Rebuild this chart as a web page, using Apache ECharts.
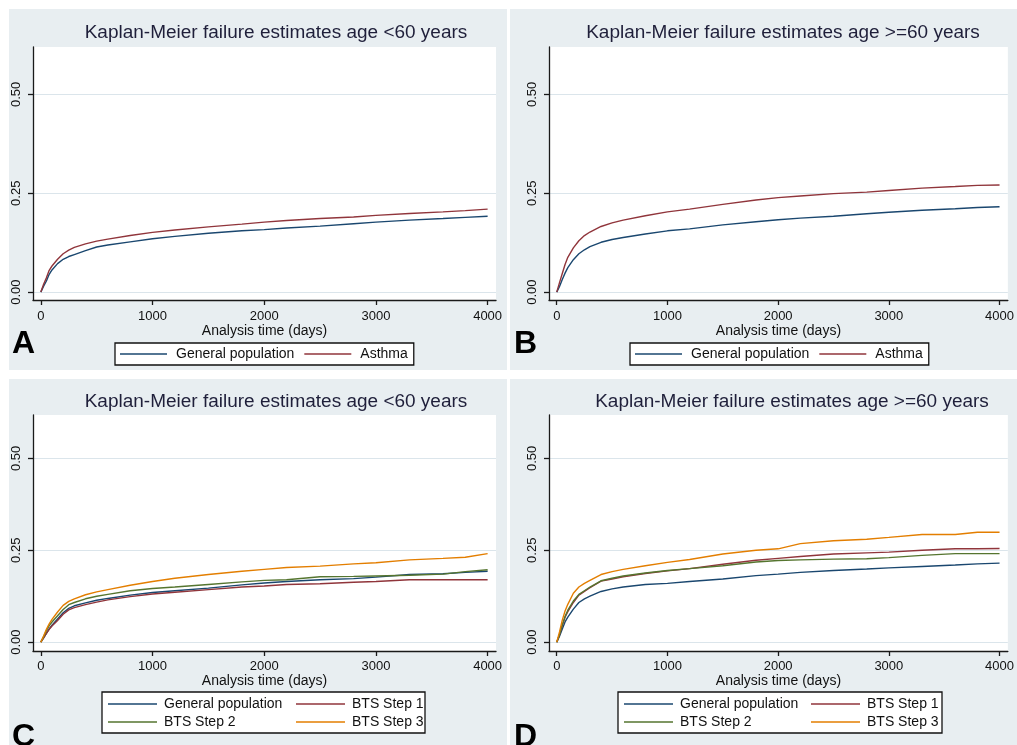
<!DOCTYPE html>
<html>
<head>
<meta charset="utf-8">
<title>Kaplan-Meier failure estimates</title>
<script src="https://cdn.jsdelivr.net/npm/echarts@6/dist/echarts.min.js"></script>
<style>
  html, body { margin: 0; padding: 0; background: #fff; }
  #chart { width: 1017px; height: 745px; }
</style>
</head>
<body>
<div id="chart"></div>
<script>
const days = [0, 25, 50, 75, 100, 150, 200, 250, 300, 400, 500, 600, 800, 1000,
    1200, 1500, 1800, 2000, 2200, 2500, 2800, 3000, 3300, 3600, 3800, 4000];

// A: age <60, general population vs asthma
const genPopA = [0, .015, .028, .045, .056, .072, .083, .090, .095, .105, .114, .119, .127, .135,
    .141, .149, .155, .158, .162, .167, .173, .177, .182, .186, .189, .192];
const asthmaA = [0, .020, .036, .055, .066, .083, .097, .106, .113, .122, .129, .134, .143, .151,
    .157, .165, .172, .177, .181, .186, .190, .194, .199, .203, .206, .210];

// B: age >=60, general population vs asthma
const genPopB = [0, .014, .032, .048, .062, .082, .097, .107, .115, .126, .133, .138, .147, .155,
    .160, .170, .178, .183, .187, .192, .198, .202, .207, .211, .214, .216];
const asthmaB = [0, .024, .047, .070, .088, .112, .130, .143, .152, .166, .175, .182, .193, .203,
    .210, .222, .233, .239, .243, .249, .253, .257, .263, .267, .270, .271];

// C: age <60, by BTS step
const genPopC = [0, .012, .024, .036, .046, .063, .080, .092, .099, .107, .114, .119, .128, .135,
    .140, .147, .156, .161, .165, .170, .173, .177, .184, .186, .190, .193];
const step1C = [0, .012, .024, .035, .044, .059, .076, .088, .094, .102, .109, .115, .124, .131,
    .136, .143, .150, .153, .157, .159, .163, .165, .170, .170, .170, .170];
const step2C = [0, .015, .031, .045, .055, .072, .089, .102, .108, .118, .125, .130, .140, .146,
    .150, .157, .164, .168, .170, .178, .179, .180, .182, .185, .192, .197];
const step3C = [0, .017, .035, .050, .062, .082, .100, .111, .118, .129, .137, .143, .155, .165,
    .174, .184, .193, .198, .203, .207, .213, .216, .224, .228, .231, .241];

// D: age >=60, by BTS step
const genPopD = [0, .016, .036, .055, .068, .090, .108, .118, .125, .138, .145, .150, .157, .160,
    .165, .172, .181, .185, .190, .195, .199, .202, .206, .210, .213, .215];
const step1D = [0, .020, .045, .068, .083, .108, .128, .138, .148, .166, .172, .178, .187, .194,
    .200, .212, .223, .228, .233, .240, .243, .245, .250, .254, .254, .255];
const step2D = [0, .021, .047, .070, .087, .112, .130, .140, .150, .167, .174, .180, .188, .195,
    .200, .208, .218, .222, .224, .226, .227, .230, .236, .241, .241, .241];
const step3D = [0, .028, .060, .085, .103, .133, .150, .160, .168, .184, .192, .198, .208, .217,
    .225, .240, .250, .254, .268, .276, .280, .285, .293, .293, .299, .299];

const xTicks = [0, 1000, 2000, 3000, 4000];
const yTicks = [0, 0.25, 0.5];

const titleYoung = 'Kaplan-Meier failure estimates age <60 years';
const titleOld = 'Kaplan-Meier failure estimates age >=60 years';
const xName = 'Analysis time (days)';
const genPopName = 'General population';
const asthmaName = 'Asthma';
const step1Name = 'BTS Step 1';
const step2Name = 'BTS Step 2';
const step3Name = 'BTS Step 3';

const font = '"Liberation Sans", Arial, sans-serif';
const colors = {
    [genPopName]: '#1a476f',
    [asthmaName]: '#90353b',
    [step1Name]: '#90353b',
    [step2Name]: '#55752f',
    [step3Name]: '#e37e00',
};

// layout of the four panels
const panels = [
    {
        title: titleYoung, titleX: 276, titleY: 33, letter: 'A', letterX: 12, letterY: 344,
        bg: [9, 9, 498, 361], grid: { left: 33, top: 47, width: 463, height: 253 },
        yMin: -0.02, yMax: 0.62, nameGap: 20, labelMargin: 10,
        lines: [[genPopName, genPopA], [asthmaName, asthmaA]],
    },
    {
        title: titleOld, titleX: 783, titleY: 33, letter: 'B', letterX: 514, letterY: 344,
        bg: [510, 9, 507, 361], grid: { left: 549, top: 47, width: 463, height: 253 },
        yMin: -0.02, yMax: 0.62, nameGap: 20, labelMargin: 10,
        lines: [[genPopName, genPopB], [asthmaName, asthmaB]],
    },
    {
        title: titleYoung, titleX: 276, titleY: 402, letter: 'C', letterX: 12, letterY: 737,
        bg: [9, 379, 498, 366], grid: { left: 33, top: 415, width: 463, height: 236 },
        yMin: -0.024, yMax: 0.618, nameGap: 18, labelMargin: 9,
        lines: [[genPopName, genPopC], [step1Name, step1C], [step2Name, step2C], [step3Name, step3C]],
    },
    {
        title: titleOld, titleX: 792, titleY: 402, letter: 'D', letterX: 514, letterY: 737,
        bg: [510, 379, 507, 366], grid: { left: 549, top: 415, width: 463, height: 236 },
        yMin: -0.024, yMax: 0.618, nameGap: 18, labelMargin: 9,
        lines: [[genPopName, genPopD], [step1Name, step1D], [step2Name, step2D], [step3Name, step3D]],
    },
];

const legendText = { fontSize: 14, color: '#111', fontFamily: font, padding: [0, 0, 0, 4] };

/**
 * Builds a one-row legend with a frame (panels A and B).
 * @param {number} left - Left edge of the frame.
 * @param {Array} names - Series names.
 * @returns {Object} - Legend option.
 */
const rowLegend = (left, names) => ({
    left: left, top: 343, orient: 'horizontal', data: names,
    icon: 'rect', itemWidth: 47, itemHeight: 1.5, itemGap: 10,
    padding: [4, 6, 4, 5], borderColor: '#111', borderWidth: 1.3, backgroundColor: '#fff',
    selectedMode: false, textStyle: legendText,
});

/**
 * Builds one column of a two-column legend (panels C and D).
 * @param {number} left - Left edge of the column.
 * @param {Array} names - Series names.
 * @returns {Object} - Legend option.
 */
const columnLegend = (left, names) => ({
    left: left, top: 697, orient: 'vertical', data: names,
    icon: 'rect', itemWidth: 49, itemHeight: 1.5, itemGap: 4, padding: 0,
    selectedMode: false, textStyle: { ...legendText, padding: [0, 0, 0, 2] }, z: 6,
});

const chart = echarts.init(document.getElementById('chart'), null, { renderer: 'canvas' });

const graphics = [];
panels.forEach((p) => {
    graphics.push({
        type: 'rect', z: -10, silent: true,
        shape: { x: p.bg[0], y: p.bg[1], width: p.bg[2], height: p.bg[3] },
        style: { fill: '#e8eef1' },
    });
    graphics.push({
        type: 'text', x: p.titleX, y: p.titleY, scaleX: 1.085, z: 5, silent: true,
        style: { text: p.title, font: '17.5px ' + font, fill: '#1f1f3a', align: 'center', verticalAlign: 'middle' },
    });
    graphics.push({
        type: 'text', x: p.letterX, y: p.letterY, z: 5, silent: true,
        style: { text: p.letter, font: 'bold 32px ' + font, fill: '#000', align: 'left', verticalAlign: 'middle' },
    });
});
// frames of the two-column legends
[[102, 692, 323, 41], [618, 692, 324, 41]].forEach(([x, y, w, h]) => {
    graphics.push({
        type: 'rect', z: 3, silent: true,
        shape: { x: x, y: y, width: w, height: h },
        style: { fill: '#fff', stroke: '#111', lineWidth: 1.3 },
    });
});

const axisLineStyle = { color: '#1a1a1a', width: 1.3 };

const option = {
    backgroundColor: '#fff',
    animation: false,
    graphic: graphics,
    legend: [
        rowLegend(115, [genPopName, asthmaName]),
        rowLegend(630, [genPopName, asthmaName]),
        columnLegend(108, [genPopName, step2Name]),
        columnLegend(296, [step1Name, step3Name]),
        columnLegend(624, [genPopName, step2Name]),
        columnLegend(811, [step1Name, step3Name]),
    ],
    grid: panels.map((p) => ({
        ...p.grid, show: true, backgroundColor: '#fff', borderWidth: 0, containLabel: false,
    })),
    xAxis: panels.map((p, i) => ({
        gridIndex: i, type: 'value', min: -70, max: 4075,
        name: xName, nameLocation: 'middle', nameGap: p.nameGap,
        nameTextStyle: { fontSize: 14, color: '#111', fontFamily: font },
        axisLine: { show: true, onZero: false, lineStyle: axisLineStyle },
        axisTick: { show: true, length: 5, customValues: xTicks, lineStyle: axisLineStyle },
        axisLabel: {
            customValues: xTicks, fontSize: 13, color: '#111', fontFamily: font, margin: p.labelMargin,
            formatter: (v) => String(v),
        },
        splitLine: { show: false },
    })),
    yAxis: panels.map((p, i) => ({
        gridIndex: i, type: 'value', min: p.yMin, max: p.yMax,
        axisLine: { show: true, onZero: false, lineStyle: axisLineStyle },
        axisTick: { show: true, length: 5, customValues: yTicks, lineStyle: axisLineStyle },
        axisLabel: {
            customValues: yTicks, rotate: 90, fontSize: 13, color: '#111', fontFamily: font, margin: 10,
            formatter: (v) => v.toFixed(2),
        },
        splitLine: { show: true, lineStyle: { color: '#dbe5eb', width: 1 } },
    })),
    series: panels.flatMap((p, i) => p.lines.map(([name, values]) => ({
        name: name, type: 'line', symbol: 'none',
        xAxisIndex: i, yAxisIndex: i,
        color: colors[name],
        lineStyle: { color: colors[name], width: 1.4 },
        data: days.map((d, k) => [d, values[k]]),
    }))),
};

chart.setOption(option);
window.addEventListener('resize', chart.resize);
</script>
</body>
</html>
